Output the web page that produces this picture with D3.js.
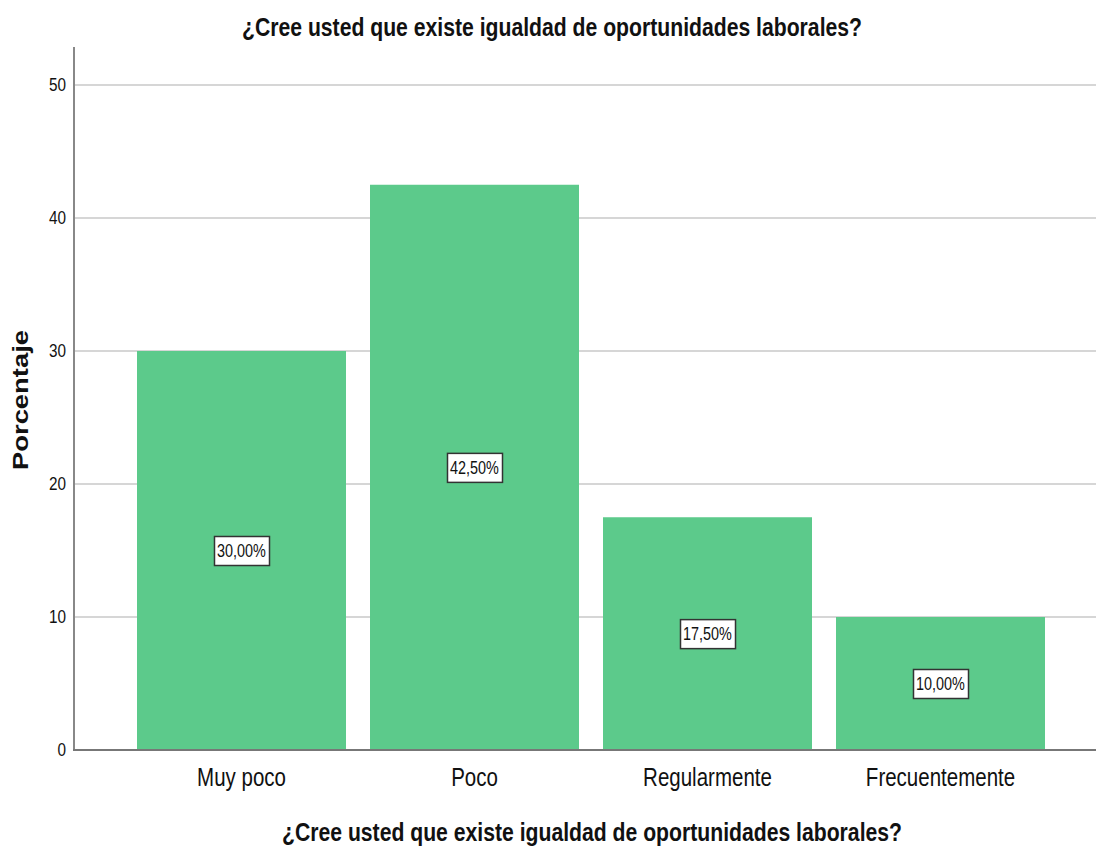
<!DOCTYPE html>
<html>
<head>
<meta charset="utf-8">
<script src="https://cdn.jsdelivr.net/npm/d3@7"></script>
<style>
  body { margin: 0; background: #fff; }
  text { font-family: "Liberation Sans Narrow", "Arial Narrow", "Liberation Sans", sans-serif; fill: #111; }
  .grid line { stroke: #d6d6d6; stroke-width: 2; }
</style>
</head>
<body>
<div id="chart"></div>
<script>
const categories = ['Muy poco', 'Poco', 'Regularmente', 'Frecuentemente'];
const values = [30.0, 42.5, 17.5, 10.0];
const labels = ['30,00%', '42,50%', '17,50%', '10,00%'];
const yTicks = [0, 10, 20, 30, 40, 50];
const title = '¿Cree usted que existe igualdad de oportunidades laborales?';

const width = 1096, height = 850;
const svg = d3.select('#chart').append('svg')
    .attr('width', width).attr('height', height);

const x = d3.scaleBand().domain(categories)
    .range([113, 1069]).paddingInner(0.103).paddingOuter(0.103);
const y = d3.scaleLinear().domain([0, 50]).range([750, 85]);

// gridlines
svg.append('g').attr('class', 'grid')
   .selectAll('line').data(yTicks.filter(d => d > 0)).enter()
   .append('line')
   .attr('x1', 74).attr('x2', width)
   .attr('y1', d => y(d)).attr('y2', d => y(d));

// bars
svg.append('g').selectAll('rect')
   .data(values).enter().append('rect')
   .attr('x', (d, i) => x(categories[i]))
   .attr('width', x.bandwidth())
   .attr('y', d => y(d))
   .attr('height', d => y(0) - y(d))
   .attr('fill', '#5cca8b');

// y axis
let yAxis = svg.append('g')
    .attr('transform', 'translate(74,0)')
    .call(d3.axisLeft(y).tickValues(yTicks).tickSize(0).tickPadding(0));
yAxis.select('path.domain').remove();
yAxis.append('line').attr('x1', 0).attr('x2', 0).attr('y1', 47).attr('y2', 751)
     .attr('stroke', '#888').attr('stroke-width', 2);
yAxis.selectAll('.tick text')
     .attr('x', 0)
     .attr('transform', 'translate(-8,0) scale(0.85,1)')
     .attr('font-size', 18).attr('font-family', null).attr('fill', '#222');

// x baseline
svg.append('line').attr('x1', 73).attr('x2', width)
   .attr('y1', y(0)).attr('y2', y(0))
   .attr('stroke', '#777').attr('stroke-width', 2);

// category labels
let xAxis = svg.append('g')
    .attr('transform', `translate(0,${y(0)})`)
    .call(d3.axisBottom(x).tickSize(0).tickPadding(0));
xAxis.select('path.domain').remove();
xAxis.selectAll('.tick text')
     .attr('y', 0).attr('dy', null)
     .attr('transform', 'translate(0,36) scale(0.82,1)')
     .attr('font-size', 25).attr('font-family', null).attr('fill', '#222');

// value labels
let lbl = svg.append('g').selectAll('g')
    .data(values).enter().append('g')
    .attr('transform', (d, i) => `translate(${x(categories[i]) + x.bandwidth() / 2},${y(d / 2)})`);
lbl.append('rect')
   .attr('x', -27).attr('y', -14).attr('width', 55).attr('height', 29)
   .attr('fill', '#fff').attr('stroke', '#333').attr('stroke-width', 1.5);
lbl.append('text')
   .attr('text-anchor', 'middle').attr('dy', '0.37em')
   .attr('transform', 'scale(0.8,1)')
   .attr('font-size', 18)
   .text((d, i) => labels[i]);

// titles
svg.append('text')
   .attr('x', 552).attr('y', 36).attr('text-anchor', 'middle')
   .attr('font-size', 25).attr('font-weight', 'bold')
   .attr('textLength', 620).attr('lengthAdjust', 'spacingAndGlyphs')
   .text(title);
svg.append('text')
   .attr('x', 592).attr('y', 841).attr('text-anchor', 'middle')
   .attr('font-size', 25).attr('font-weight', 'bold')
   .attr('textLength', 620).attr('lengthAdjust', 'spacingAndGlyphs')
   .text(title);
svg.append('text')
   .attr('transform', 'translate(28,400) rotate(-90)')
   .attr('text-anchor', 'middle')
   .attr('font-family', '"Liberation Sans", Arial, sans-serif')
   .attr('font-size', 22).attr('font-weight', 'bold')
   .attr('textLength', 140).attr('lengthAdjust', 'spacingAndGlyphs')
   .text('Porcentaje');
</script>
</body>
</html>
